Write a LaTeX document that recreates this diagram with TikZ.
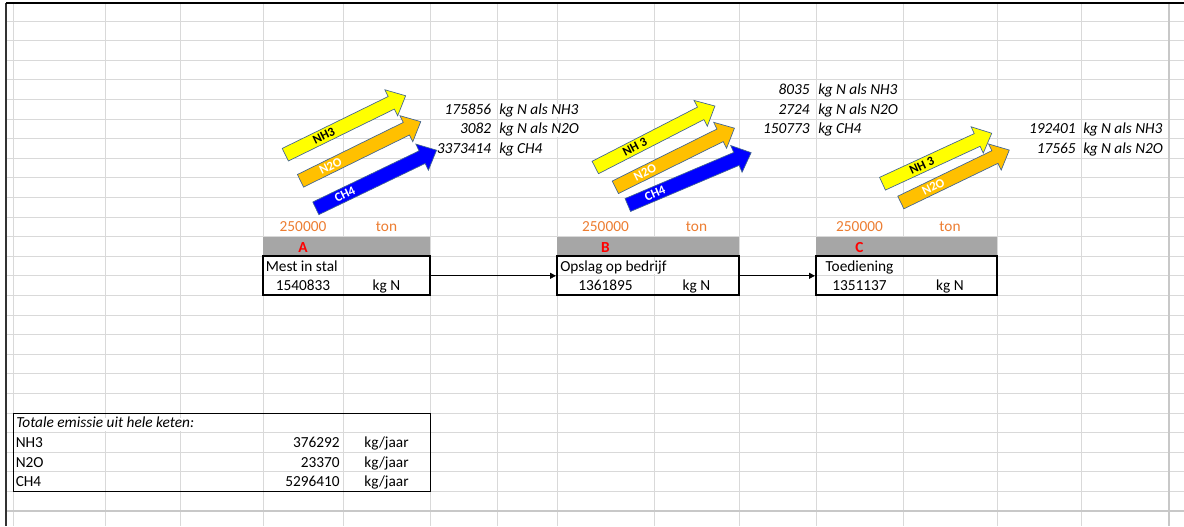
\documentclass[tikz,border=0pt]{standalone}
\usepackage{fontspec}
\setmainfont{Carlito}
\usetikzlibrary{arrows.meta}
\definecolor{gridgray}{RGB}{217,217,217}
\definecolor{pagegray}{RGB}{200,200,200}
\definecolor{bargray}{RGB}{166,166,166}
\definecolor{tonorange}{RGB}{237,125,49}
\definecolor{nhyellow}{RGB}{255,255,0}
\definecolor{nogold}{RGB}{255,192,0}
\definecolor{chblue}{RGB}{0,0,255}
\definecolor{arrowline}{RGB}{65,100,145}

% block arrow: tail, angle, length, fill, label colour, label position, label
\newcommand{\gasarrow}[7]{%
  \begin{scope}[shift={#1}, rotate=#2]
    \filldraw[fill=#4, draw=arrowline, line width=0.5pt]
      (0,-7) -- ({#3-16},-7) -- ({#3-16},-14.5) -- (#3,0)
      -- ({#3-16},14.5) -- ({#3-16},7) -- (0,7) -- cycle;
    \node[rotate=#2, text=#5, font=\bfseries\fontsize{9.5}{9.5}\selectfont]
      at ({#6*#3},0) {#7};
  \end{scope}}

\begin{document}
\begin{tikzpicture}[x=0.75pt, y=-0.75pt,
    gridline/.style={gridgray, line width=0.6pt},
    cell/.style={inner xsep=0pt, inner ysep=0pt, text height=7.5pt, text depth=2pt,
      fill=white, font=\fontsize{11.5}{13}\selectfont},
    note/.style={cell, font=\itshape\fontsize{11.5}{13}\selectfont},
    amount/.style={cell, text=tonorange},
    stage/.style={inner sep=0pt, text=red, font=\bfseries\fontsize{11.5}{13}\selectfont},
    stagebox/.style={draw, line width=1.5pt, minimum height=29.4pt, inner sep=0pt},
    flow/.style={line width=0.6pt, -{Triangle[length=4.5pt, width=4.5pt]}}]
    \useasboundingbox (0,0) rectangle (1184,526);
    \fill[white] (0,0) rectangle (1184,526);

    % Sheet grid.
    \foreach \x in {13,105,180,263,343,430,497,557,654,739,816,903,997,1081}
        \draw[gridline] (\x,3) -- (\x,526);
    \foreach \k in {0,...,24}
        \draw[gridline] (6,{21+19.6*\k}) -- (1184,{21+19.6*\k});
    \draw[pagegray, line width=1.3pt] (1169,3) -- (1169,526);
    \draw[pagegray, line width=1.3pt] (6,511) -- (1184,511);
    \draw[black!80, line width=1.4pt] (6,3) -- (6,526);
    \draw[line width=0.8pt] (6,3) -- (1184,3);

    % Header bars above each stage.
    \fill[bargray] (263,236.6) rectangle (430,256.2);
    \fill[bargray] (557,236.6) rectangle (739,256.2);
    \fill[bargray] (816,236.6) rectangle (997,256.2);
    \node[stage] at (303,247.8) {A};
    \node[stage] at (605.5,247.8) {B};
    \node[stage] at (859.5,247.8) {C};

    \node[amount] at (303,228.2) {250000};
    \node[amount] at (386.5,228.2) {ton};
    \node[amount] at (605.5,228.2) {250000};
    \node[amount] at (696.5,228.2) {ton};
    \node[amount] at (859.5,228.2) {250000};
    \node[amount] at (950,228.2) {ton};

    % Stages of the chain.
    \node[stagebox, minimum width=125.25pt] (stal) at (346.5,275.8) {};
    \node[stagebox, minimum width=136.5pt] (opslag) at (648,275.8) {};
    \node[stagebox, minimum width=135.75pt] (toediening) at (906.5,275.8) {};

    \node[cell, anchor=west] at (265.5,267.4) {Mest in stal};
    \node[cell] at (303,287) {1540833};
    \node[cell] at (386.5,287) {kg N};
    \node[cell, anchor=west] at (560,267.4) {Opslag op bedrijf};
    \node[cell] at (605.5,287) {1361895};
    \node[cell] at (696.5,287) {kg N};
    \node[cell] at (859.5,267.4) {Toediening};
    \node[cell] at (859.5,287) {1351137};
    \node[cell] at (950,287) {kg N};

    \draw[flow] (stal.east) -- (opslag.west);
    \draw[flow] (opslag.east) -- (toediening.west);

    % Emissions per stage.
    \node[note, anchor=east] at (491.5,110.6) {175856};
    \node[note, anchor=west] at (499,110.6) {kg N als NH3};
    \node[note, anchor=east] at (491.5,130.2) {3082};
    \node[note, anchor=west] at (499,130.2) {kg N als N2O};
    \node[note, anchor=east] at (491.5,149.8) {3373414};
    \node[note, anchor=west] at (499,149.8) {kg CH4};

    \node[note, anchor=east] at (810,91) {8035};
    \node[note, anchor=west] at (818,91) {kg N als NH3};
    \node[note, anchor=east] at (810,110.6) {2724};
    \node[note, anchor=west] at (818,110.6) {kg N als N2O};
    \node[note, anchor=east] at (810,130.2) {150773};
    \node[note, anchor=west] at (818,130.2) {kg CH4};

    \node[note, anchor=east] at (1076,130.2) {192401};
    \node[note, anchor=west] at (1083,130.2) {kg N als NH3};
    \node[note, anchor=east] at (1076,149.8) {17565};
    \node[note, anchor=west] at (1083,149.8) {kg N als N2O};

    \gasarrow{(285.3,154.7)}{26.1}{134}{nhyellow}{black}{0.32}{NH3}
    \gasarrow{(300.5,180.8)}{26.2}{134}{nogold}{white}{0.25}{N2O}
    \gasarrow{(315.8,208.3)}{25.7}{134}{chblue}{white}{0.24}{CH4}
    \gasarrow{(595.3,167.5)}{27.2}{134.5}{nhyellow}{black}{0.33}{NH 3}
    \gasarrow{(615.3,187.3)}{26.4}{133}{nogold}{white}{0.25}{N2O}
    \gasarrow{(627.8,205)}{23}{134}{chblue}{white}{0.22}{CH4}
    \gasarrow{(882.5,183.7)}{24.8}{120.3}{nhyellow}{black}{0.36}{NH 3}
    \gasarrow{(900.8,202.5)}{25.8}{120.5}{nogold}{white}{0.30}{N2O}

    % Totals over the whole chain.
    \draw[line width=0.75pt] (13,413) rectangle (430,491.4);
    \node[note, anchor=west] at (16,424.2) {Totale emissie uit hele keten:};
    \node[cell, anchor=west] at (15.5,443.8) {NH3};
    \node[cell, anchor=east] at (340,443.8) {376292};
    \node[cell] at (386.5,443.8) {kg/jaar};
    \node[cell, anchor=west] at (15.5,463.4) {N2O};
    \node[cell, anchor=east] at (340,463.4) {23370};
    \node[cell] at (386.5,463.4) {kg/jaar};
    \node[cell, anchor=west] at (15.5,483) {CH4};
    \node[cell, anchor=east] at (340,483) {5296410};
    \node[cell] at (386.5,483) {kg/jaar};
\end{tikzpicture}
\end{document}
